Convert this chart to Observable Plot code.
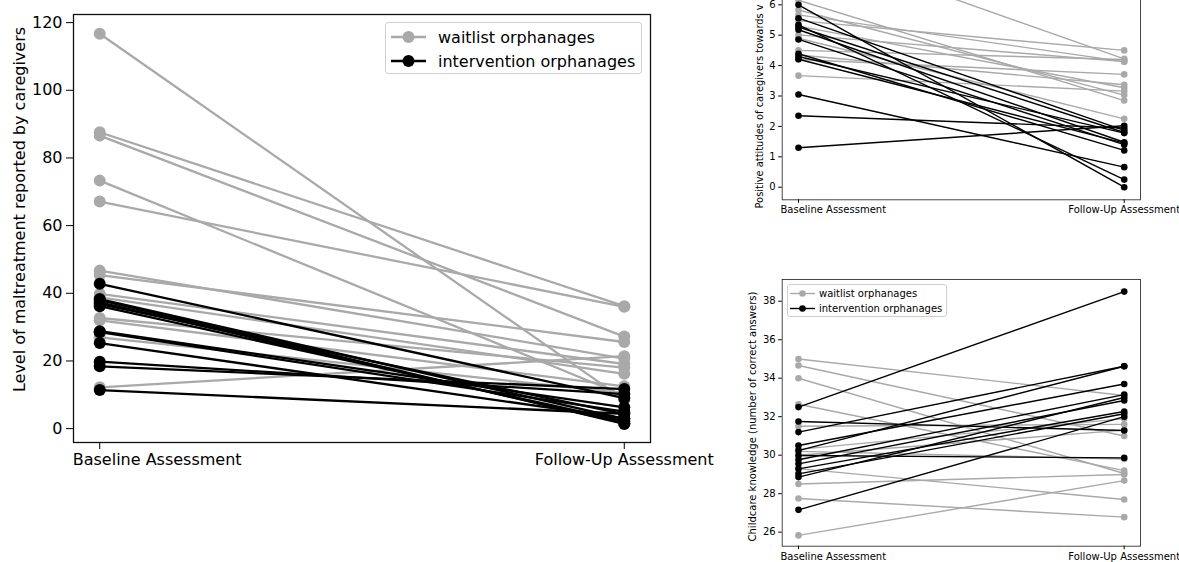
<!DOCTYPE html>
<html><head><meta charset="utf-8">
<script src="https://cdn.jsdelivr.net/npm/d3@7"></script>
<script src="https://cdn.jsdelivr.net/npm/@observablehq/plot@0.6"></script>
<style>
body{margin:0;background:#fff;width:1179px;height:562px;overflow:hidden;position:relative;font-family:"DejaVu Sans",sans-serif;}
.panel{position:absolute;}
.legend{position:absolute;background:rgba(255,255,255,0.85);border:1px solid #cfcfcf;border-radius:3px;box-sizing:border-box;}
.legend .row{position:absolute;left:0;display:flex;align-items:center;white-space:nowrap;color:#000;}
.legend svg{display:block;}
</style></head><body>
<div id="main" class="panel" style="left:0;top:0"></div>
<div id="tr" class="panel" style="left:700px;top:-100px"></div>
<div id="br" class="panel" style="left:700px;top:262px"></div>
<div id="legMain" class="legend" style="left:385px;top:22px;width:257px;height:52px"></div>
<div id="legBR" class="legend" style="left:787px;top:284px;width:160px;height:33px"></div>
<script>
// ---------- data ----------
const periods = ["Baseline Assessment", "Follow-Up Assessment"];
const groups = ["waitlist orphanages", "intervention orphanages"];
const groupColors = ["#a9a9a9", "#000000"];

// Main panel: Level of maltreatment reported by caregivers
const mainWaitBase   = [116.7, 87.6, 86.6, 73.3, 67.1, 46.7, 45.4, 39.8, 38.8, 32.7, 32.0, 27.0, 12.2];
const mainWaitFollow = [8.5, 36.2, 27.2, 9.8, 36.0, 20.7, 25.6, 19.1, 16.2, 18.0, 12.5, 10.5, 21.4];
const mainIntBase    = [42.8, 38.3, 38.0, 37.3, 36.8, 36.2, 28.8, 28.5, 25.3, 19.8, 18.4, 11.4];
const mainIntFollow  = [9.0, 2.9, 1.4, 1.6, 4.3, 2.2, 6.3, 5.0, 3.0, 10.2, 11.7, 4.4];
const mainYTicks = [0, 20, 40, 60, 80, 100, 120];

// Top-right panel: positive attitudes of caregivers (label cut at the top in the reference)
const attWaitBase   = [8.0, 6.15, 5.83, 5.67, 5.48, 5.3, 5.01, 4.9, 4.5, 4.35, 4.2, 3.67];
const attWaitFollow = [4.22, 2.85, 3.03, 4.13, 4.5, 3.27, 4.13, 2.25, 4.2, 3.37, 3.71, 3.16];
const attIntBase    = [6.0, 5.56, 5.34, 5.27, 5.18, 4.86, 4.39, 4.3, 4.21, 3.05, 2.35, 1.30];
const attIntFollow  = [0.0, 1.87, 0.25, 1.8, 1.48, 1.4, 1.21, 1.78, 1.45, 0.66, 1.95, 2.02];
const attYTicks = [0, 1, 2, 3, 4, 5, 6];

// Bottom-right panel: Childcare knowledge
const knowWaitBase   = [35.0, 34.66, 34.0, 32.65, 31.5, 30.3, 30.2, 30.0, 29.3, 28.5, 27.75, 25.83];
const knowWaitFollow = [33.1, 31.0, 29.05, 29.2, 31.6, 31.9, 29.8, 31.3, 27.7, 29.0, 26.78, 28.68];
const knowIntBase    = [32.5, 31.75, 31.2, 30.5, 30.24, 29.98, 29.76, 29.55, 29.29, 29.03, 28.86, 27.16];
const knowIntFollow  = [38.5, 31.28, 34.62, 33.7, 34.62, 29.86, 33.15, 32.84, 32.27, 32.15, 33.0, 32.0];
const knowYTicks = [26, 28, 30, 32, 34, 36, 38];

const mainYLabel = "Level of maltreatment reported by caregivers";
const attYLabel = "Positive attitudes of caregivers towards v";
const knowYLabel = "Childcare knowledge (number of correct answers)";

function rows(base, follow, g) {
  return base.flatMap((b, i) => [
    {id: g + "-" + i, t: 0, v: b, g},
    {id: g + "-" + i, t: 1, v: follow[i], g}
  ]);
}

function panel(o) {
  const wait = rows(o.wb, o.wf, 0), int = rows(o.ib, o.if, 1);
  const marks = [
    Plot.frame({stroke: o.frameColor, strokeWidth: o.frameW}),
    Plot.axisY({ticks: o.yticks, tickSize: o.tick, tickPadding: o.pad, label: null, fontSize: o.fs}),
    Plot.axisX({ticks: [0, 1], tickSize: o.tick, tickFormat: () => "", label: null}),
    Plot.text([0], {x: d => d, frameAnchor: "bottom", dy: o.tick + o.pad, lineAnchor: "top", textAnchor: "start", dx: o.xdx, text: d => periods[d], fontSize: o.fs}),
    Plot.text([1], {x: d => d, frameAnchor: "bottom", dy: o.tick + o.pad, lineAnchor: "top", textAnchor: "middle", text: d => periods[d], fontSize: o.fs})
  ];
  for (const data of [wait, int]) {
    marks.push(Plot.line(data, {x: "t", y: "v", z: "id", stroke: d => groupColors[d.g], strokeWidth: o.lw}));
    marks.push(Plot.dot(data, {x: "t", y: "v", fill: d => groupColors[d.g], r: o.r, stroke: "none"}));
  }
  marks.push(Plot.text([o.ylabel], {text: d => d, ...o.ylab, rotate: -90, fontSize: o.lfs}));
  return Plot.plot({
    width: o.width, height: o.height,
    marginLeft: o.ml, marginRight: o.mr, marginTop: o.mt, marginBottom: o.mb,
    style: {fontFamily: "DejaVu Sans", fontSize: o.fs + "px", color: "#000", background: "transparent", overflow: "visible"},
    x: {domain: [-0.05, 1.05], axis: null},
    y: {domain: o.ydom, axis: null},
    color: {type: "identity"},
    marks
  });
}

document.getElementById("main").append(panel({
  width: 720, height: 480, ml: 73, mr: 70, mt: 14, mb: 38,
  ydom: [-4.1, 122.4], yticks: mainYTicks,
  wb: mainWaitBase, wf: mainWaitFollow, ib: mainIntBase, if: mainIntFollow,
  fs: 16, lfs: 16, tick: 7, pad: 4, lw: 2.3, r: 6, xdx: -27,
  frameColor: "#111", frameW: 1.3,
  ylabel: mainYLabel, ylab: {frameAnchor: "left", dx: -54, dy: -19, textAnchor: "middle", lineAnchor: "middle"}
}));

document.getElementById("tr").append(panel({
  width: 479, height: 330, ml: 81.7, mr: 39, mt: 22, mb: 30.7,
  ydom: [-0.414, 8.707], yticks: attYTicks,
  wb: attWaitBase, wf: attWaitFollow, ib: attIntBase, if: attIntFollow,
  fs: 10, lfs: 9.9, tick: 3.5, pad: 3, lw: 1.4, r: 3.3, xdx: -18,
  frameColor: "#333", frameW: 0.9,
  ylabel: attYLabel, ylab: {frameAnchor: "bottom-left", dx: -22.7, dy: 8.7, textAnchor: "start", lineAnchor: "middle"}
}));

document.getElementById("br").append(panel({
  width: 479, height: 300, ml: 81.7, mr: 39, mt: 17, mb: 16.3,
  ydom: [25.27, 39.13], yticks: knowYTicks,
  wb: knowWaitBase, wf: knowWaitFollow, ib: knowIntBase, if: knowIntFollow,
  fs: 10, lfs: 10, tick: 3.5, pad: 3, lw: 1.4, r: 3.3, xdx: -18,
  frameColor: "#333", frameW: 0.9,
  ylabel: knowYLabel, ylab: {frameAnchor: "left", dx: -29, dy: 3.7, textAnchor: "middle", lineAnchor: "middle"}
}));

// ---------- legends ----------
function legend(el, o) {
  groups.forEach((name, i) => {
    const row = document.createElement("div");
    row.className = "row";
    row.style.top = o.rowTops[i] + "px";
    row.style.height = o.rowH + "px";
    row.style.fontSize = o.fs + "px";
    const ns = "http://www.w3.org/2000/svg";
    const svg = document.createElementNS(ns, "svg");
    svg.setAttribute("width", o.symW); svg.setAttribute("height", o.rowH);
    svg.style.marginLeft = o.symX + "px";
    const ln = document.createElementNS(ns, "line");
    ln.setAttribute("x1", 0); ln.setAttribute("x2", o.symW);
    ln.setAttribute("y1", o.rowH / 2); ln.setAttribute("y2", o.rowH / 2);
    ln.setAttribute("stroke", groupColors[i]); ln.setAttribute("stroke-width", o.lw);
    const c = document.createElementNS(ns, "circle");
    c.setAttribute("cx", o.symW / 2); c.setAttribute("cy", o.rowH / 2); c.setAttribute("r", o.r);
    c.setAttribute("fill", groupColors[i]);
    svg.append(ln, c);
    const span = document.createElement("span");
    span.textContent = name;
    span.style.marginLeft = o.gap + "px";
    row.append(svg, span);
    el.append(row);
  });
}
legend(document.getElementById("legMain"), {rowTops: [2, 26], rowH: 24, fs: 16, symX: 5, symW: 35, gap: 12, lw: 2.3, r: 6});
legend(document.getElementById("legBR"), {rowTops: [1, 15.5], rowH: 15, fs: 10, symX: 2, symW: 25, gap: 4, lw: 1.4, r: 3.3});
</script>
</body></html>
